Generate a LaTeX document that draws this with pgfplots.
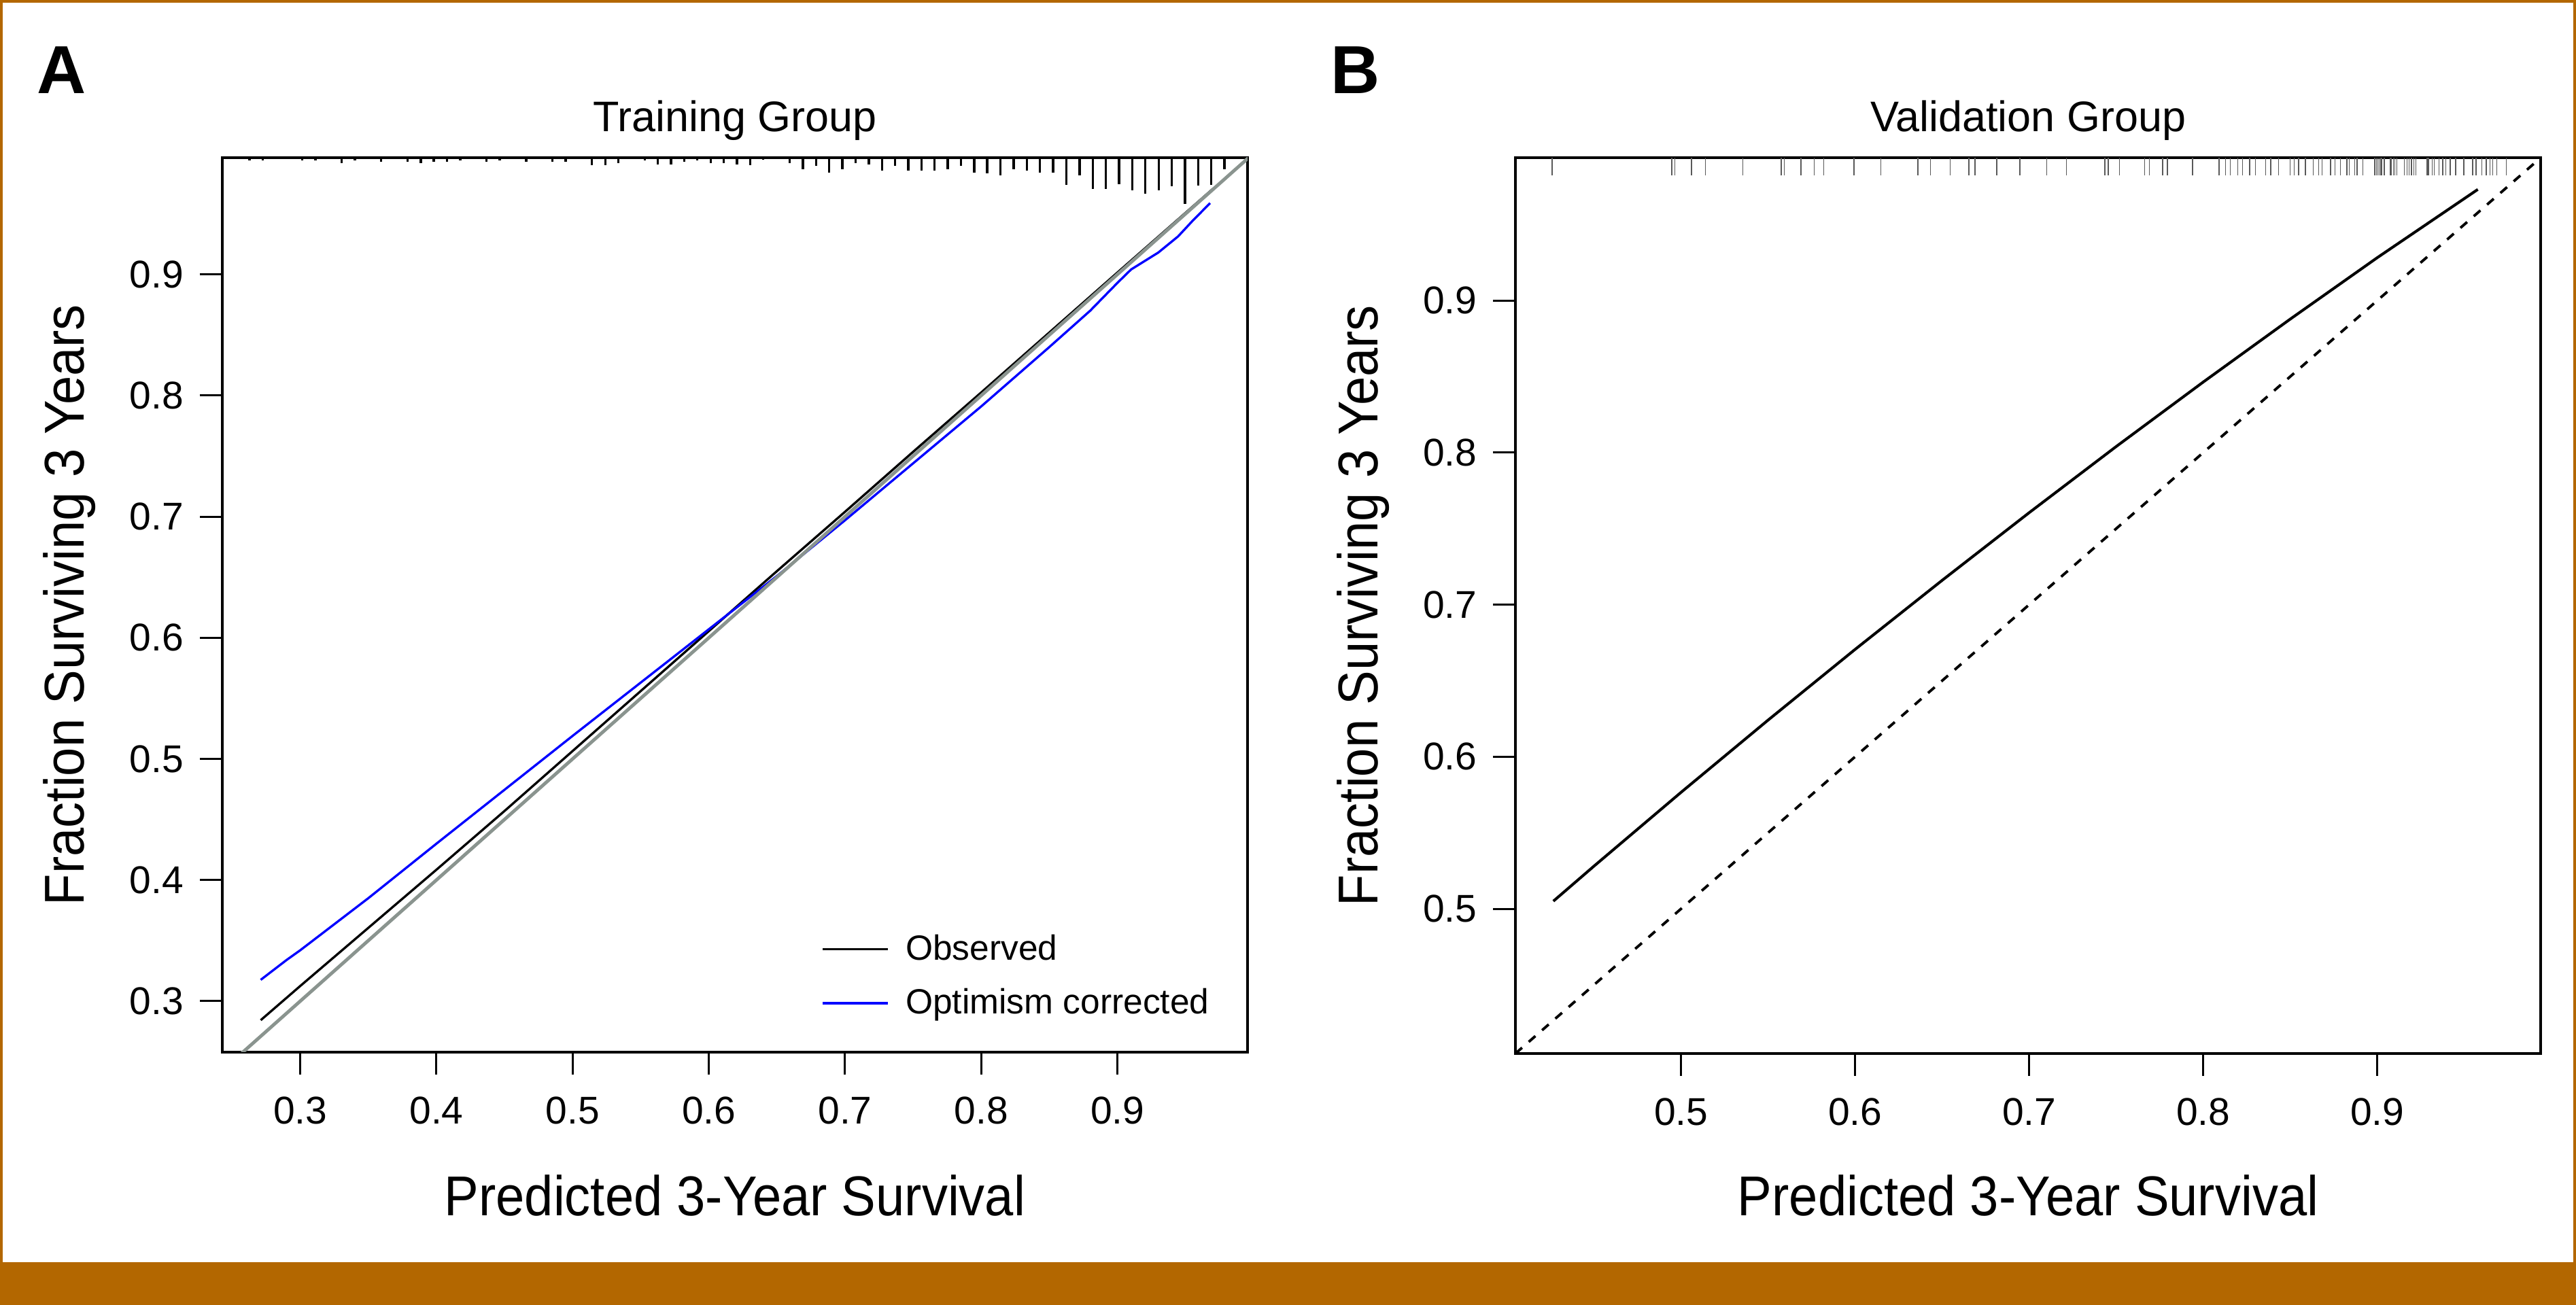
\documentclass[border=0pt]{standalone}
\usepackage{fontspec}
\setmainfont{Liberation Sans}
\newfontfamily\condfont[FakeStretch=0.92]{Liberation Sans}
\usepackage{pgfplots}
\usepackage{pgfplotstable}
\pgfplotsset{compat=1.18}
\definecolor{frameorange}{RGB}{179,103,0}
\definecolor{diaggray}{RGB}{138,148,143}

\pgfplotstableread{
x y e
0.2627 0.9963 0.0024
0.2724 0.9963 0.0024
0.3014 0.9963 0.0024
0.3111 0.9963 0.0024
0.3304 0.9963 0.0043
0.3401 0.9963 0.0024
0.3594 0.9963 0.0032
0.3788 0.9963 0.0032
0.3885 0.9963 0.0043
0.3981 0.9963 0.0032
0.4078 0.9963 0.0032
0.4175 0.9963 0.0024
0.4368 0.9963 0.0032
0.4465 0.9963 0.0024
0.4659 0.9963 0.0032
0.4852 0.9963 0.0032
0.4949 0.9963 0.0032
0.5142 0.9963 0.0062
0.5239 0.9963 0.0062
0.5336 0.9963 0.0043
0.5529 0.9963 0.0024
0.5626 0.9963 0.0056
0.5723 0.9963 0.0056
0.5819 0.9963 0.0032
0.5916 0.9963 0.0024
0.6013 0.9963 0.0043
0.6110 0.9963 0.0043
0.6206 0.9963 0.0056
0.6303 0.9963 0.0062
0.6400 0.9963 0.0017
0.6593 0.9963 0.0043
0.6690 0.9963 0.0094
0.6787 0.9963 0.0069
0.6884 0.9963 0.0125
0.6980 0.9963 0.0094
0.7077 0.9963 0.0043
0.7174 0.9963 0.0056
0.7271 0.9963 0.0107
0.7367 0.9963 0.0069
0.7464 0.9963 0.0107
0.7561 0.9963 0.0107
0.7658 0.9963 0.0107
0.7754 0.9963 0.0094
0.7851 0.9963 0.0069
0.7948 0.9963 0.0125
0.8044 0.9963 0.0131
0.8141 0.9963 0.0144
0.8238 0.9963 0.0094
0.8335 0.9963 0.0107
0.8431 0.9963 0.0122
0.8528 0.9963 0.0122
0.8625 0.9963 0.0224
0.8722 0.9963 0.0144
0.8818 0.9963 0.0256
0.8915 0.9963 0.0256
0.9012 0.9963 0.0219
0.9109 0.9963 0.0268
0.9205 0.9963 0.0299
0.9302 0.9963 0.0268
0.9399 0.9963 0.0237
0.9496 0.9963 0.0380
0.9592 0.9963 0.0230
0.9689 0.9963 0.0224
0.9786 0.9963 0.0094
}\rugA

\pgfplotstableread{
x y e
0.4259 0.994 0.0116
0.4946 0.994 0.0116
0.4965 0.994 0.0116
0.5060 0.994 0.0116
0.5140 0.994 0.0116
0.5354 0.994 0.0116
0.5575 0.994 0.0116
0.5594 0.994 0.0116
0.5689 0.994 0.0116
0.5765 0.994 0.0116
0.5819 0.994 0.0116
0.5994 0.994 0.0116
0.6147 0.994 0.0116
0.6360 0.994 0.0116
0.6433 0.994 0.0116
0.6547 0.994 0.0116
0.6654 0.994 0.0116
0.6688 0.994 0.0116
0.6814 0.994 0.0116
0.6947 0.994 0.0116
0.7100 0.994 0.0116
0.7214 0.994 0.0116
0.7435 0.994 0.0116
0.7455 0.994 0.0116
0.7519 0.994 0.0116
0.7664 0.994 0.0116
0.7691 0.994 0.0116
0.7767 0.994 0.0116
0.7794 0.994 0.0116
0.7939 0.994 0.0116
0.8091 0.994 0.0116
0.8129 0.994 0.0116
0.8156 0.994 0.0116
0.8198 0.994 0.0116
0.8225 0.994 0.0116
0.8267 0.994 0.0116
0.8301 0.994 0.0116
0.8358 0.994 0.0116
0.8388 0.994 0.0116
0.8434 0.994 0.0116
0.8499 0.994 0.0116
0.8522 0.994 0.0116
0.8548 0.994 0.0116
0.8587 0.994 0.0116
0.8632 0.994 0.0116
0.8663 0.994 0.0116
0.8682 0.994 0.0116
0.8732 0.994 0.0116
0.8758 0.994 0.0116
0.8789 0.994 0.0116
0.8826 0.994 0.0116
0.8839 0.994 0.0116
0.8871 0.994 0.0116
0.8885 0.994 0.0116
0.8917 0.994 0.0116
0.8986 0.994 0.0116
0.8995 0.994 0.0116
0.9004 0.994 0.0116
0.9012 0.994 0.0116
0.9021 0.994 0.0116
0.9028 0.994 0.0116
0.9041 0.994 0.0116
0.9073 0.994 0.0116
0.9080 0.994 0.0116
0.9093 0.994 0.0116
0.9100 0.994 0.0116
0.9113 0.994 0.0116
0.9155 0.994 0.0116
0.9171 0.994 0.0116
0.9184 0.994 0.0116
0.9197 0.994 0.0116
0.9210 0.994 0.0116
0.9223 0.994 0.0116
0.9286 0.994 0.0116
0.9295 0.994 0.0116
0.9315 0.994 0.0116
0.9327 0.994 0.0116
0.9354 0.994 0.0116
0.9377 0.994 0.0116
0.9393 0.994 0.0116
0.9419 0.994 0.0116
0.9451 0.994 0.0116
0.9497 0.994 0.0116
0.9549 0.994 0.0116
0.9568 0.994 0.0116
0.9601 0.994 0.0116
0.9627 0.994 0.0116
0.9647 0.994 0.0116
0.9664 0.994 0.0116
0.9686 0.994 0.0116
0.9742 0.994 0.0116
}\rugB

\pgfplotsset{
  calstyle/.style={
    scale only axis,
    width=150.82mm,
    anchor=south west,
    axis line style={line width=1pt, black},
    tick align=outside,
    major tick length=3.3mm,
    every tick/.style={line width=0.85pt, black},
    xtick pos=left, ytick pos=left,
    /pgf/number format/assume math mode=true,
    tick label style={font=\fontsize{16.2}{19}\selectfont, inner sep=0pt},
    xticklabel shift=3.2mm,
    yticklabel shift=2.3mm,
    label style={font=\condfont\fontsize{23.5}{28}\selectfont, inner sep=0pt},
    title style={font=\fontsize{17.9}{21}\selectfont, inner sep=0pt},
  }
}

\begin{document}
\begin{tikzpicture}
\useasboundingbox (0mm,0mm) rectangle (378.9mm,192mm);
\fill[white] (0mm,0mm) rectangle (378.9mm,192mm);
\fill[frameorange] (0mm,0mm) rectangle (378.9mm,6.3mm);
\fill[frameorange] (0mm,0mm) rectangle (0.4mm,192mm);
\fill[frameorange] (378.5mm,0mm) rectangle (378.9mm,192mm);
\fill[frameorange] (0mm,191.6mm) rectangle (378.9mm,192mm);

\node[anchor=base west, inner sep=0pt, font=\bfseries\fontsize{28.45}{34}\selectfont] at (5.4mm,178.2mm) {A};
\node[anchor=base west, inner sep=0pt, font=\bfseries\fontsize{28.45}{34}\selectfont] at (195.7mm,178.2mm) {B};

% Panel A
\begin{axis}[calstyle,
  at={(32.68mm,37.2mm)}, height=131.6mm,
  xmin=0.2427, xmax=0.9955, ymin=0.2579, ymax=0.9963,
  xtick={0.3,0.4,0.5,0.6,0.7,0.8,0.9},
  xticklabels={0.3,0.4,0.5,0.6,0.7,0.8,0.9},
  ytick={0.3,0.4,0.5,0.6,0.7,0.8,0.9},
  yticklabels={0.3,0.4,0.5,0.6,0.7,0.8,0.9},
  xlabel={Predicted 3-Year Survival},
  ylabel={Fraction Surviving 3 Years},
  title={Training Group},
  xlabel style={at={(axis description cs:0.5,-0.1824)}, anchor=base},
  ylabel style={at={(axis description cs:-0.1346,0.5)}, anchor=base},
  title style={at={(axis description cs:0.5,1.013)}, anchor=base},
  legend style={draw=none, fill=none, at={(rel axis cs:0.5843,0.132)}, anchor=north west,
    inner sep=0pt, font=\fontsize{14.65}{17}\selectfont, row sep=3.7mm, column sep=2.4mm,
    nodes={inner sep=0pt}},
  legend cell align=left,
  legend image code/.code={\draw[#1] (0mm,0mm) -- (9.6mm,0mm);},
]
\addplot[draw=none, mark=none, forget plot,
  error bars/.cd, y dir=minus, y explicit, error mark=none,
  error bar style={draw=black, line width=0.95pt}]
  table[x=x, y=y, y error=e] {\rugA};
\addplot[black, line width=0.95pt] coordinates {
(0.271,0.2843) (0.3,0.3125) (0.35,0.3605) (0.4,0.4085) (0.45,0.457) (0.5,0.5065)
(0.55,0.556) (0.6,0.6055) (0.65,0.655) (0.7,0.704) (0.75,0.7535) (0.8,0.8025)
(0.85,0.852) (0.9,0.9015) (0.97,0.9705)};
\addlegendentry{Observed}
\addplot[blue, line width=0.95pt] coordinates {
(0.271,0.3176) (0.29,0.334) (0.3,0.342) (0.35,0.385) (0.4,0.430) (0.45,0.4745)
(0.5,0.519) (0.55,0.563) (0.6,0.607) (0.65,0.651) (0.7,0.697) (0.75,0.744)
(0.8,0.791) (0.85,0.840) (0.88,0.870) (0.9,0.893) (0.91,0.904) (0.92,0.911)
(0.93,0.918) (0.9445,0.9313) (0.955,0.944) (0.968,0.9588)};
\addlegendentry{Optimism corrected}
\addplot[diaggray, line width=1.4pt, forget plot] coordinates {(0.2,0.2) (1.0,1.0)};
\end{axis}

% Panel B
\begin{axis}[calstyle,
  at={(222.9mm,37.0mm)}, height=131.8mm,
  xmin=0.4048, xmax=0.994, ymin=0.4048, ymax=0.994,
  xtick={0.5,0.6,0.7,0.8,0.9},
  xticklabels={0.5,0.6,0.7,0.8,0.9},
  ytick={0.5,0.6,0.7,0.8,0.9},
  yticklabels={0.5,0.6,0.7,0.8,0.9},
  xlabel={Predicted 3-Year Survival},
  ylabel={Fraction Surviving 3 Years},
  title={Validation Group},
  xlabel style={at={(axis description cs:0.5,-0.1806)}, anchor=base},
  ylabel style={at={(axis description cs:-0.1346,0.5)}, anchor=base},
  title style={at={(axis description cs:0.5,1.013)}, anchor=base},
]
\addplot[draw=none, mark=none, forget plot,
  error bars/.cd, y dir=minus, y explicit, error mark=none,
  error bar style={draw=black!65, line width=0.4pt}]
  table[x=x, y=y, y error=e] {\rugB};
\addplot[black, line width=1.15pt] coordinates {
(0.4266,0.505) (0.45,0.5281) (0.5,0.5766) (0.55,0.6241) (0.6,0.6706) (0.65,0.7160)
(0.7,0.7605) (0.75,0.8040) (0.8,0.8464) (0.85,0.8878) (0.9,0.9282) (0.9578,0.9731)};
\addplot[black, line width=1.1pt, dash pattern=on 1.3mm off 1.3mm] coordinates {(0.4048,0.4048) (0.994,0.994)};
\end{axis}
\end{tikzpicture}
\end{document}
